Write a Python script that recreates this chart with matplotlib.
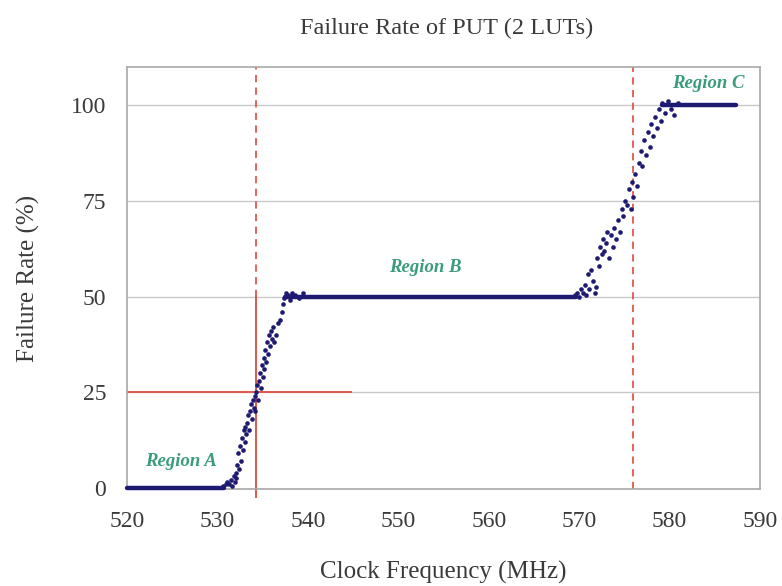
import matplotlib
matplotlib.use("Agg")
import matplotlib.pyplot as plt

# ---- data ----
# flat plateaus (start MHz, end MHz, failure rate %)
plateau_start = [520.0, 537.5, 579.2]
plateau_end = [530.7, 569.6, 587.3]
plateau_rate = [0, 50, 100]

# transition A -> B
trans_ab_x = [530.6, 530.9, 531.1, 531.3, 531.5, 531.6, 531.8, 531.9, 532.0, 532.1,
              532.2, 532.3, 532.4, 532.5, 532.6, 532.7, 532.8, 532.9, 533.0, 533.1,
              533.2, 533.3, 533.4, 533.5, 533.6, 533.7, 533.8, 533.9, 534.0, 534.1,
              534.2, 534.3, 534.4, 534.5, 534.6, 534.7, 534.8, 534.9, 535.0, 535.1,
              535.2, 535.3, 535.4, 535.5, 535.6, 535.7, 535.8, 535.9, 536.0, 536.1,
              536.3, 536.5, 536.7, 536.9, 537.1, 537.3, 537.4, 537.6, 537.8, 538.0,
              538.3, 538.6, 539.0, 539.5]
trans_ab_y = [0.5, 1.0, 1.5, 1.0, 2.0, 0.5, 3.0, 1.5, 4.0, 2.5,
              6.0, 9.0, 5.0, 11.0, 7.0, 13.0, 10.0, 15.0, 12.0, 16.0,
              14.0, 17.0, 19.0, 15.0, 20.0, 22.0, 18.0, 23.0, 21.0, 24.0,
              20.0, 25.0, 27.0, 23.0, 28.0, 30.0, 26.0, 32.0, 29.0, 34.0,
              31.0, 36.0, 33.0, 38.0, 35.0, 40.0, 37.0, 41.0, 39.0, 42.0,
              38.0, 40.0, 43.0, 44.0, 46.0, 48.0, 49.5, 51.0, 50.5, 49.0,
              51.0, 50.5, 49.5, 51.0]

# transition B -> C
trans_bc_x = [569.5, 569.8, 570.0, 570.2, 570.4, 570.6, 570.8, 571.0, 571.1, 571.3,
              571.5, 571.7, 571.9, 572.0, 572.2, 572.3, 572.5, 572.6, 572.8, 573.0,
              573.1, 573.3, 573.5, 573.7, 573.9, 574.1, 574.3, 574.5, 574.7, 574.9,
              575.1, 575.3, 575.5, 575.7, 575.9, 576.0, 576.2, 576.4, 576.6, 576.8,
              577.0, 577.2, 577.4, 577.6, 577.8, 578.0, 578.2, 578.4, 578.6, 578.8,
              579.0, 579.2, 579.5, 579.8, 580.2, 580.5, 580.9]
trans_bc_y = [50.5, 51.0, 50.0, 52.0, 51.0, 53.0, 50.5, 56.0, 52.0, 57.0,
              54.0, 51.0, 52.5, 60.0, 58.0, 63.0, 61.0, 65.0, 62.0, 64.0,
              67.0, 60.0, 66.0, 63.0, 68.0, 65.0, 70.0, 67.0, 73.0, 71.0,
              75.0, 74.0, 78.0, 73.0, 80.0, 76.0, 82.0, 79.0, 85.0, 88.0,
              84.0, 91.0, 87.0, 93.0, 89.0, 95.0, 92.0, 97.0, 94.0, 99.0,
              96.0, 100.5, 98.0, 101.0, 99.0, 97.5, 100.5]

x_ticks = [520, 530, 540, 550, 560, 570, 580, 590]
y_ticks = [0, 25, 50, 75, 100]

region_labels = ["Region A", "Region B", "Region C"]
region_x = [526.0, 553.0, 584.3]
region_y = [6.8, 57.5, 105.8]

marker_a_x = 534.3   # threshold frequency at 25 %
marker_a_y = 25
marker_a_hline_end = 544.8
marker_c_x = 576.0

# ---- plotting ----
plt.rcParams['font.family'] = ['Liberation Serif', 'DejaVu Serif']
fig = plt.figure(figsize=(7.82, 5.86), dpi=100)
ax = fig.add_axes([127 / 782, 1 - 489 / 586, (760 - 127) / 782, (489 - 67) / 586])

dot_color = '#1e1a72'
red = '#e0574a'
green = '#3b9c7c'
text_color = '#3a3a3a'

ax.set_xlim(520, 590)
ax.set_ylim(-0.3, 110)

for yv in y_ticks[1:]:
    ax.axhline(yv, color='#c9c9c9', lw=1.0, zorder=0)

for s, e, r in zip(plateau_start, plateau_end, plateau_rate):
    ax.plot([s, e], [r, r], color=dot_color, lw=3.2, solid_capstyle='round', zorder=3,
            clip_on=False)

ax.scatter(trans_ab_x, trans_ab_y, s=11, color=dot_color, zorder=3, linewidths=0)
ax.scatter(trans_bc_x, trans_bc_y, s=11, color=dot_color, zorder=3, linewidths=0)

# red marker lines
ax.plot([marker_a_x, marker_a_x], [-2.5, 50], color=red, lw=1.4, zorder=2, clip_on=False)
ax.plot([marker_a_x, marker_a_x], [50, 110], color=red, lw=1.3, ls=(0, (4, 3)), zorder=2)
ax.plot([520, marker_a_hline_end], [marker_a_y, marker_a_y], color=red, lw=1.4, zorder=2)
ax.plot([marker_c_x, marker_c_x], [-0.3, 110], color=red, lw=1.3, ls=(0, (4, 3)), zorder=2)

for t, xx, yy in zip(region_labels, region_x, region_y):
    ax.text(xx, yy, t, color=green, fontsize=13.5, fontweight='bold', fontstyle='italic',
            ha='center', va='center', zorder=4)

ax.set_xticks(x_ticks)
ax.set_yticks(y_ticks)
ax.tick_params(length=0, labelsize=17, colors=text_color)
ax.tick_params(axis='x', pad=16)
ax.tick_params(axis='y', pad=15)
for sp in ax.spines.values():
    sp.set_color('#a8a8a8')
    sp.set_linewidth(1.2)

ax.set_xlabel('Clock Frequency (MHz)', fontsize=18, color=text_color, labelpad=21)
ax.set_ylabel('Failure Rate (%)', fontsize=18, color=text_color, labelpad=22)
fig.text(447 / 782, 1 - 28 / 586, 'Failure Rate of PUT (2 LUTs)', fontsize=17.5,
         color=text_color, ha='center', va='center')

fig.savefig('out.png', dpi=100, facecolor='white')
